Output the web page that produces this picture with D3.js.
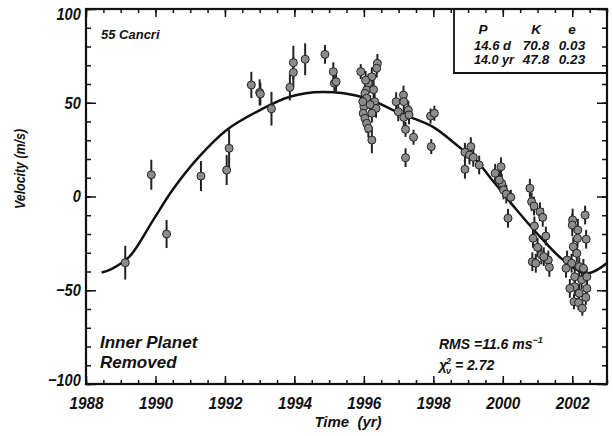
<!DOCTYPE html>
<html>
<head>
<meta charset="utf-8">
<script src="https://cdn.jsdelivr.net/npm/d3@7"></script>
<style>
body { margin: 0; background: #fff; }
text { font-family: "Liberation Sans", Arial, sans-serif; font-weight: bold; font-style: italic; fill: #111; }
</style>
</head>
<body>
<div id="chart"></div>
<script>
// radial velocity data (year, m/s, error)
var years = [1989.13, 1989.88, 1990.32, 1991.31, 1992.05, 1992.12, 1992.76, 1993.00, 1993.02, 1993.34,
    1993.87, 1993.97, 1993.97, 1994.31, 1994.88, 1995.12, 1995.15, 1995.20, 1995.91,
    1996.39, 1996.37, 1996.23, 1996.13, 1996.08, 1996.03, 1996.08, 1996.31, 1996.35, 1996.00,
    1995.98, 1996.23, 1996.03, 1996.08, 1996.13, 1996.23, 1995.97, 1996.28, 1996.18, 1996.05,
    1996.93, 1997.14, 1997.15, 1996.99, 1997.28, 1997.15, 1997.20, 1997.43, 1997.20, 1997.30,
    1997.92, 1998.03, 1997.94,
    1998.91, 1999.08, 1999.04, 1999.15, 1999.32, 1998.91, 1999.78, 1999.95, 1999.97, 2000.02,
    2000.10, 2000.23, 2000.15, 1999.90,
    2000.78, 2000.83, 2000.90, 2001.07, 2001.15, 2000.91, 2001.24, 2000.87, 2001.00, 2001.11,
    2000.85, 2001.31, 2001.34, 2000.95, 2001.18,
    2002.01, 2002.00, 2002.16, 2002.37, 2002.40, 2002.15, 2002.03, 2002.13, 2001.85, 2001.98,
    2002.20, 2001.82, 2002.32, 2002.07, 2002.27, 2002.42, 2002.07, 2002.42, 2002.20, 2002.05,
    2002.18, 2002.29, 2002.39, 2001.93];
var velocities = [-35.3, 11.6, -20.0, 10.9, 14.1, 25.7, 59.5, 55.5, 54.7, 46.8,
    58.2, 66.2, 71.4, 73.2, 75.8, 66.6, 60.4, 61.2, 66.6,
    71.0, 68.4, 63.9, 60.4, 56.8, 55.0, 52.4, 50.6, 47.0, 47.9,
    44.4, 44.4, 41.7, 39.0, 36.4, 30.1, 50.6, 57.0, 49.0, 62.0,
    50.6, 54.1, 50.6, 45.2, 46.1, 42.2, 35.8, 31.6, 20.7, 43.5,
    42.9, 44.4, 26.6,
    23.6, 26.6, 22.1, 20.9, 16.8, 14.5, 12.4, 15.9, 7.0, 3.5,
    1.3, -0.4, -11.6, 8.8,
    4.4, -2.8, -5.1, -8.1, -11.1, -15.7, -21.1, -22.3, -27.1, -31.2,
    -34.8, -33.9, -37.8, -35.6, -32.1,
    -12.5, -15.2, -17.9, -9.9, -22.8, -22.3, -26.8, -30.3, -33.9, -35.6,
    -37.4, -38.3, -38.3, -42.8, -44.5, -42.8, -48.1, -49.0, -51.6, -56.1,
    -56.6, -59.6, -53.8, -49.0];
var errors = [9, 8, 7.5, 8, 8, 10, 7, 7, 6, 9,
    7, 8, 9, 8.5, 5, 5, 5, 5, 4,
    5, 5, 5, 5, 5, 5, 5, 5, 5, 5,
    5, 5, 5, 5, 5, 7, 5, 5, 5, 5,
    5, 5, 5, 5, 5, 5, 4, 4, 5, 5,
    4, 4, 4,
    5, 5, 5, 5, 5, 5, 5, 5, 5, 5,
    5, 4, 5, 5,
    5, 5, 5, 5, 5, 5, 5, 5, 5, 5,
    5, 5, 5, 5, 5,
    6, 6, 6, 5, 5, 5, 5, 5, 5, 5,
    5, 5, 5, 5, 5, 5, 5, 5, 5, 4,
    4, 4, 4, 5];

// fitted orbit
var fitYears = [1988.45, 1988.7, 1989.25, 1989.92, 1990.49, 1991.22, 1992.05, 1993.01, 1993.87, 1994.8,
    1995.98, 1997.04, 1998.0, 1998.77, 1999.15, 1999.73, 2000.4, 2001.07, 2001.74, 2002.42, 2003.0];
var fitVelocities = [-40.5, -39.0, -32.1, -13.0, 3.5, 20.5, 35.5, 46.1, 53.2, 55.7,
    52.9, 44.4, 37.0, 26.0, 21.0, 8.0, -7.2, -21.4, -33.9, -41.0, -35.5];

var xTickLabels = [1988, 1990, 1992, 1994, 1996, 1998, 2000, 2002];
var yTickLabels = [-100, -50, 0, 50, 100];
var tableHeader = ["P", "K", "e"];
var tableRows = [["14.6 d", "70.8", "0.03"], ["14.0 yr", "47.8", "0.23"]];

var svgWidth = 613;
var svgHeight = 436;
var margin = { top: 9, right: 6, bottom: 52, left: 86 };
var width = svgWidth - margin.left - margin.right;
var height = svgHeight - margin.top - margin.bottom;

var svg = d3.select("#chart")
    .append("svg")
    .attr("width", svgWidth)
    .attr("height", svgHeight);

var chartGroup = svg.append("g")
    .attr("transform", `translate(${margin.left}, ${margin.top})`);

var xScale = d3.scaleLinear().domain([1988, 2003]).range([0, width]);
var yScale = d3.scaleLinear().domain([-100, 100]).range([height, 0]);

var xMinor = d3.range(1988, 2003.01, 0.5);
var yMinor = d3.range(-100, 100.01, 10);

function tidy(g) {
    g.select(".domain").remove();
    g.selectAll(".tick line").attr("stroke", "#111").attr("stroke-width", 1.5);
}

// minor ticks on all four sides (inward)
chartGroup.append("g").attr("transform", `translate(0, ${height})`)
    .call(d3.axisBottom(xScale).tickValues(xMinor).tickSize(-4).tickFormat("")).call(tidy);
chartGroup.append("g")
    .call(d3.axisTop(xScale).tickValues(xMinor).tickSize(-4).tickFormat("")).call(tidy);
chartGroup.append("g")
    .call(d3.axisLeft(yScale).tickValues(yMinor).tickSize(-5).tickFormat("")).call(tidy);
chartGroup.append("g").attr("transform", `translate(${width}, 0)`)
    .call(d3.axisRight(yScale).tickValues(yMinor).tickSize(-5).tickFormat("")).call(tidy);

// major ticks + labels
var bottomAxis = chartGroup.append("g").attr("transform", `translate(0, ${height})`)
    .call(d3.axisBottom(xScale).tickValues(xTickLabels).tickSize(-8).tickPadding(13).tickFormat(d3.format("d")))
    .call(tidy);
bottomAxis.selectAll("text")
    .style("font-size", "17px")
    .attr("fill", "#111")
    .attr("transform", "scale(0.9,1)");

chartGroup.append("g")
    .call(d3.axisTop(xScale).tickValues(xTickLabels).tickSize(-8).tickFormat("")).call(tidy);

var leftAxis = chartGroup.append("g")
    .call(d3.axisLeft(yScale).tickValues(yTickLabels).tickSize(-10).tickPadding(5)
        .tickFormat(d => d < 0 ? "\u2212" + Math.abs(d) : d))
    .call(tidy);
leftAxis.selectAll("text")
    .style("font-size", "17px")
    .attr("fill", "#111")
    .attr("x", -6)
    .attr("transform", "scale(0.86,1)")
    .attr("dy", d => d == 100 ? "0.62em" : d == -100 ? "0.1em" : "0.32em");

chartGroup.append("g").attr("transform", `translate(${width}, 0)`)
    .call(d3.axisRight(yScale).tickValues(yTickLabels).tickSize(-10).tickFormat("")).call(tidy);

// frame
chartGroup.append("rect")
    .attr("width", width)
    .attr("height", height)
    .attr("fill", "none")
    .attr("stroke", "#111")
    .attr("stroke-width", 2.2);

// parameter table box
var boxLeft = 368;
var boxBottom = 64;
chartGroup.append("path")
    .attr("d", `M${boxLeft},0V${boxBottom}H${width}`)
    .attr("fill", "none")
    .attr("stroke", "#111")
    .attr("stroke-width", 1.8);

var colX = [397, 450, 486];
var tableGroup = chartGroup.append("g").style("font-size", "13.5px");
tableHeader.forEach(function(h, i) {
    tableGroup.append("text").attr("x", colX[i]).attr("y", 25)
        .attr("text-anchor", "middle").text(h);
});
tableRows.forEach(function(row, r) {
    tableGroup.append("text").attr("x", 388).attr("y", 41 + r * 14)
        .attr("textLength", r == 0 ? 37 : 40).attr("lengthAdjust", "spacingAndGlyphs").text(row[0]);
    tableGroup.append("text").attr("x", colX[1]).attr("y", 41 + r * 14)
        .attr("text-anchor", "middle").text(row[1]);
    tableGroup.append("text").attr("x", colX[2]).attr("y", 41 + r * 14)
        .attr("text-anchor", "middle").text(row[2]);
});

// fitted curve
chartGroup.append("clipPath").attr("id", "plotclip")
    .append("rect").attr("width", width).attr("height", height);

var fitLine = d3.line()
    .x(d => xScale(d[0]))
    .y(d => yScale(d[1]))
    .curve(d3.curveCatmullRom);

chartGroup.append("path")
    .datum(fitYears.map((t, i) => [t, fitVelocities[i]]))
    .attr("clip-path", "url(#plotclip)")
    .attr("d", fitLine)
    .attr("fill", "none")
    .attr("stroke", "#111")
    .attr("stroke-width", 2.5);

// data points with error bars
var points = years.map((t, i) => ({ t: t, v: velocities[i], err: errors[i] }));

chartGroup.selectAll(".errbar")
    .data(points)
    .enter()
    .append("line")
    .attr("class", "errbar")
    .attr("x1", d => xScale(d.t))
    .attr("x2", d => xScale(d.t))
    .attr("y1", d => yScale(d.v - d.err))
    .attr("y2", d => yScale(d.v + d.err))
    .attr("stroke", "#222")
    .attr("stroke-width", 2);

chartGroup.selectAll("circle")
    .data(points)
    .enter()
    .append("circle")
    .attr("cx", d => xScale(d.t))
    .attr("cy", d => yScale(d.v))
    .attr("r", 4)
    .attr("fill", "#8c8c8c")
    .attr("stroke", "#222")
    .attr("stroke-width", 1);

// annotations
chartGroup.append("text").attr("x", 15).attr("y", 30)
    .style("font-size", "13px").text("55 Cancri");

chartGroup.append("text").attr("x", 14).attr("y", 339)
    .style("font-size", "17px").text("Inner Planet");
chartGroup.append("text").attr("x", 14).attr("y", 359)
    .style("font-size", "17px").text("Removed");

var rms = chartGroup.append("text").attr("x", 353).attr("y", 340).style("font-size", "14px");
rms.append("tspan").text("RMS =11.6 ms");
rms.append("tspan").attr("dy", -6).style("font-size", "9px").text("\u22121");

var chi = chartGroup.append("text").attr("x", 353).attr("y", 361).style("font-size", "14px");
chi.append("tspan").text("\u03c7");
chi.append("tspan").attr("dx", -1).attr("dy", -6).style("font-size", "9px").text("2");
chi.append("tspan").attr("dx", -5).attr("dy", 10).style("font-size", "9px").text("\u03bd");
chi.append("tspan").attr("dy", -4).text(" = 2.72");

// axis titles
chartGroup.append("text")
    .attr("transform", `translate(${25 - margin.left}, 160) rotate(-90) scale(0.8,1)`)
    .attr("text-anchor", "middle")
    .style("font-size", "15.5px")
    .text("Velocity (m/s)");

chartGroup.append("text")
    .attr("x", 348)
    .attr("y", 427 - margin.top)
    .attr("transform", `translate(${-margin.left}, 0)`)
    .attr("text-anchor", "middle")
    .style("font-size", "15px")
    .style("white-space", "pre")
    .text("Time  (yr)");
</script>
</body>
</html>
